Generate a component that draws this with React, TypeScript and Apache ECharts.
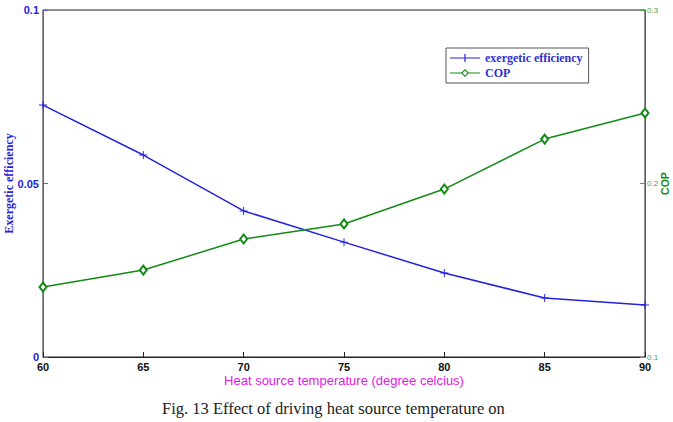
import React, { useEffect, useRef } from "react";
import * as echarts from "echarts";

// Heat source temperature (°C)
const temperatures = [60, 65, 70, 75, 80, 85, 90];
// Exergetic efficiency (left axis)
const exergeticEfficiency = [0.0726, 0.0582, 0.0421, 0.0331, 0.0242, 0.017, 0.015];
// Coefficient of performance (right axis)
const cop = [0.1403, 0.1501, 0.168, 0.1767, 0.1968, 0.2256, 0.2406];

const BLUE = "#2323dc";
const GREEN = "#138a13";

// marker / legend shapes built from thin filled strips
const plusSymbol = "path://M0,4.4H10V5.6H0Z M4.4,0H5.6V10H4.4Z";
const plusLegend = "path://M0,4.4H30V5.6H0Z M14.4,1H15.6V9H14.4Z";
const diamondLegend =
  "path://M0,4.4H11.5V5.6H0Z M18.5,4.4H30V5.6H18.5Z M15,1L19,5L15,9L11,5Z M15,2.6L12.6,5L15,7.4L17.4,5Z";

export default function App() {
  const ref = useRef<HTMLDivElement>(null);

  useEffect(() => {
    if (!ref.current) return;
    const chart = echarts.init(ref.current, null, { renderer: "svg" });
    chart.setOption({
      animation: false,
      backgroundColor: "#ffffff",
      grid: {
        left: 43,
        right: 28,
        top: 10,
        bottom: 65,
        containLabel: false,
        outerBoundsMode: "none",
        show: true,
        borderColor: "#222",
        borderWidth: 1,
        backgroundColor: "transparent",
      },
      legend: {
        orient: "vertical",
        left: 446,
        top: 48,
        borderColor: "#555",
        borderWidth: 1,
        padding: [4, 6, 4, 4],
        itemGap: 3,
        itemWidth: 30,
        itemHeight: 10,
        itemStyle: { borderWidth: 0 },
        textStyle: {
          fontFamily: "Liberation Serif",
          fontWeight: "bold",
          fontSize: 12,
          color: "#3030cc",
        },
        data: [
          { name: "exergetic efficiency", icon: plusLegend, itemStyle: { borderWidth: 0 } },
          { name: "COP", icon: diamondLegend, itemStyle: { borderWidth: 0 } },
        ],
      },
      xAxis: {
        type: "value",
        min: 60,
        max: 90,
        interval: 5,
        name: "Heat source temperature (degree celcius)",
        nameLocation: "middle",
        nameGap: 17,
        nameMoveOverlap: false,
        nameTextStyle: { fontFamily: "Liberation Sans", fontSize: 13, color: "#e020e0" },
        axisLine: { lineStyle: { color: "#222", width: 1 } },
        axisTick: { inside: true, length: 5, lineStyle: { color: "#222" } },
        axisLabel: {
          fontFamily: "Liberation Sans",
          fontWeight: "bold",
          fontSize: 11,
          color: "#111",
          margin: 4,
        },
        splitLine: { show: false },
      },
      yAxis: [
        {
          type: "value",
          min: 0,
          max: 0.1,
          interval: 0.05,
          position: "left",
          name: "Exergetic efficiency",
          nameLocation: "middle",
          nameGap: 28,
          nameMoveOverlap: false,
          nameTextStyle: {
            fontFamily: "Liberation Serif",
            fontWeight: "bold",
            fontSize: 12,
            color: BLUE,
          },
          axisLine: { show: true, lineStyle: { color: "#5a5ae8", width: 1 } },
          axisTick: { show: true, inside: true, length: 5, lineStyle: { color: "#5a5ae8" } },
          axisLabel: {
            fontFamily: "Liberation Sans",
            fontWeight: "bold",
            fontSize: 11,
            color: BLUE,
            margin: 4,
            formatter: (v: number) => String(+v.toFixed(2)),
          },
          splitLine: { show: false },
        },
        {
          type: "value",
          min: 0.1,
          max: 0.3,
          interval: 0.1,
          position: "right",
          name: "COP",
          nameLocation: "middle",
          nameGap: 14,
          nameRotate: 90,
          nameMoveOverlap: false,
          nameTextStyle: {
            fontFamily: "Liberation Sans",
            fontWeight: "bold",
            fontSize: 10.5,
            color: GREEN,
          },
          axisLine: { show: true, lineStyle: { color: "#3a64a8", width: 1 } },
          axisTick: { show: true, inside: true, length: 5, lineStyle: { color: "#5a9a5a" } },
          axisLabel: {
            fontFamily: "Liberation Sans",
            fontSize: 8,
            color: "#4aa04a",
            margin: 2,
            formatter: (v: number) => String(+v.toFixed(1)),
          },
          splitLine: { show: false },
        },
      ],
      series: [
        {
          name: "exergetic efficiency",
          type: "line",
          yAxisIndex: 0,
          data: temperatures.map((t, i) => [t, exergeticEfficiency[i]]),
          color: BLUE,
          lineStyle: { color: BLUE, width: 1.5 },
          symbol: plusSymbol,
          symbolSize: 8,
          itemStyle: { color: BLUE },
        },
        {
          name: "COP",
          type: "line",
          yAxisIndex: 1,
          data: temperatures.map((t, i) => [t, cop[i]]),
          color: GREEN,
          lineStyle: { color: GREEN, width: 1.5 },
          symbol: "emptyDiamond",
          symbolSize: [7, 9],
          itemStyle: { color: GREEN, borderColor: GREEN, borderWidth: 1.3 },
        },
      ],
      graphic: [
        {
          type: "text",
          left: 162,
          top: 400,
          style: {
            text: "Fig. 13 Effect of driving heat source temperature on",
            fontFamily: "Liberation Serif",
            fontSize: 16.5,
            fill: "#222",
          },
        },
      ],
    });
    return () => chart.dispose();
  }, []);

  return (
    <div
      ref={ref}
      style={{ position: "absolute", left: 0, top: 0, width: 673, height: 422 }}
    />
  );
}
